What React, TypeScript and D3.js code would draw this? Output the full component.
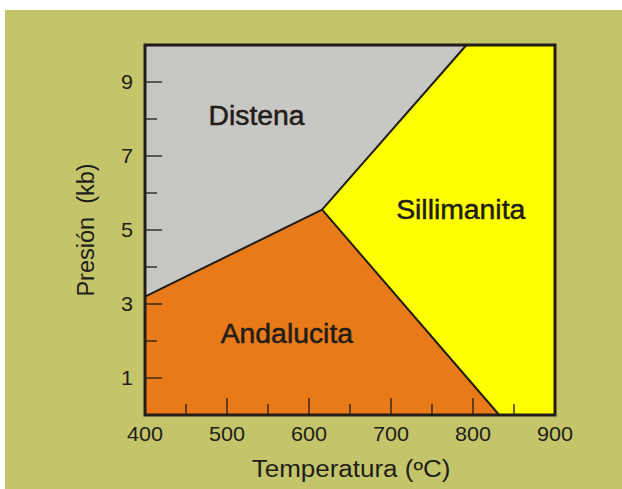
import React from "react";
import * as d3 from "d3";

// Data (temperature ºC, pressure kb)
const triplePoint: [number, number] = [616, 5.55];
const kyAndStart: [number, number] = [400, 3.2];
const kySilEnd: [number, number] = [792, 10];
const andSilEnd: [number, number] = [832, 0];

const distenaPoly: [number, number][] = [kyAndStart, triplePoint, kySilEnd, [400, 10]];
const andalucitaPoly: [number, number][] = [[400, 0], andSilEnd, triplePoint, kyAndStart];
const sillimanitaPoly: [number, number][] = [triplePoint, kySilEnd, [900, 10], [900, 0], andSilEnd];

const xMajorTicks = [400, 500, 600, 700, 800, 900];
const xMinorTicks = [450, 550, 650, 750, 850];
const yMajorTicks = [1, 3, 5, 7, 9];
const yMinorTicks = [2, 4, 6, 8];

const regionLabels = [
  { text: "Distena", t: 536, p: 7.85 },
  { text: "Sillimanita", t: 785, p: 5.29 },
  { text: "Andalucita", t: 573, p: 1.95 },
];

const W = 622;
const H = 489;
const FONT = "'Liberation Sans', Arial, Helvetica, sans-serif";
const INK = "#211d18";

export default function App() {
  const x = d3.scaleLinear().domain([400, 900]).range([145, 555]);
  const y = d3.scaleLinear().domain([0, 10]).range([415, 45]);
  const line = d3
    .line<[number, number]>()
    .x((d) => x(d[0]))
    .y((d) => y(d[1]));
  const poly = (pts: [number, number][]) => line(pts)! + "Z";

  const textStretch = (cx: number, cy: number, s: number) =>
    `translate(${cx},${cy}) scale(${s},1)`;

  return (
    <svg
      width={W}
      height={H}
      style={{ position: "absolute", left: 0, top: 0, background: "#fff" }}
    >
      <rect x={5} y={10} width={W - 5} height={H - 10} fill="#c4c46b" />
      <path d={poly(distenaPoly)} fill="#c7c7c3" />
      <path d={poly(andalucitaPoly)} fill="#e87a1a" />
      <path d={poly(sillimanitaPoly)} fill="#ffff00" />

      {/* phase boundaries */}
      <path d={line([kyAndStart, triplePoint])!} stroke={INK} strokeWidth={2} fill="none" />
      <path d={line([triplePoint, kySilEnd])!} stroke={INK} strokeWidth={2} fill="none" />
      <path d={line([triplePoint, andSilEnd])!} stroke={INK} strokeWidth={2} fill="none" />

      {/* ticks */}
      {yMajorTicks.map((v) => (
        <line key={"ym" + v} x1={x(400)} x2={x(400) + 17} y1={y(v)} y2={y(v)} stroke={INK} strokeWidth={1.3} />
      ))}
      {yMinorTicks.map((v) => (
        <line key={"yn" + v} x1={x(400)} x2={x(400) + 12} y1={y(v)} y2={y(v)} stroke={INK} strokeWidth={1.3} />
      ))}
      {xMajorTicks.slice(1, -1).map((v) => (
        <line key={"xm" + v} x1={x(v)} x2={x(v)} y1={y(0)} y2={y(0) - 17} stroke={INK} strokeWidth={1.3} />
      ))}
      {xMinorTicks.map((v) => (
        <line key={"xn" + v} x1={x(v)} x2={x(v)} y1={y(0)} y2={y(0) - 11} stroke={INK} strokeWidth={1.3} />
      ))}

      {/* frame */}
      <rect x={x(400)} y={y(10)} width={x(900) - x(400)} height={y(0) - y(10)} fill="none" stroke={INK} strokeWidth={3} />

      {/* tick labels */}
      {yMajorTicks.map((v) => (
        <text
          key={"yl" + v}
          transform={textStretch(133, y(v) + 7, 1.08)}
          textAnchor="end"
          fontFamily={FONT}
          fontSize={20}
          fill={INK}
        >
          {v}
        </text>
      ))}
      {xMajorTicks.map((v) => (
        <text
          key={"xl" + v}
          transform={textStretch(x(v), 441, 1.08)}
          textAnchor="middle"
          fontFamily={FONT}
          fontSize={20}
          fill={INK}
        >
          {v}
        </text>
      ))}

      {/* region labels */}
      {regionLabels.map((r) => (
        <text
          key={r.text}
          transform={textStretch(x(r.t), y(r.p), 1.05)}
          textAnchor="middle"
          fontFamily={FONT}
          fontSize={27}
          fill={INK}
          stroke={INK}
          strokeWidth={0.5}
        >
          {r.text}
        </text>
      ))}

      {/* axis titles */}
      <text
        transform={textStretch(351, 477, 1.13)}
        textAnchor="middle"
        fontFamily={FONT}
        fontSize={23}
        fill={INK}
      >
        Temperatura (ºC)
      </text>
      <text
        transform="translate(94,230) rotate(-90)"
        textAnchor="middle"
        fontFamily={FONT}
        fontSize={23.5}
        fill={INK}
        style={{ whiteSpace: "pre" }}
      >
        {"Presión  (kb)"}
      </text>
    </svg>
  );
}
